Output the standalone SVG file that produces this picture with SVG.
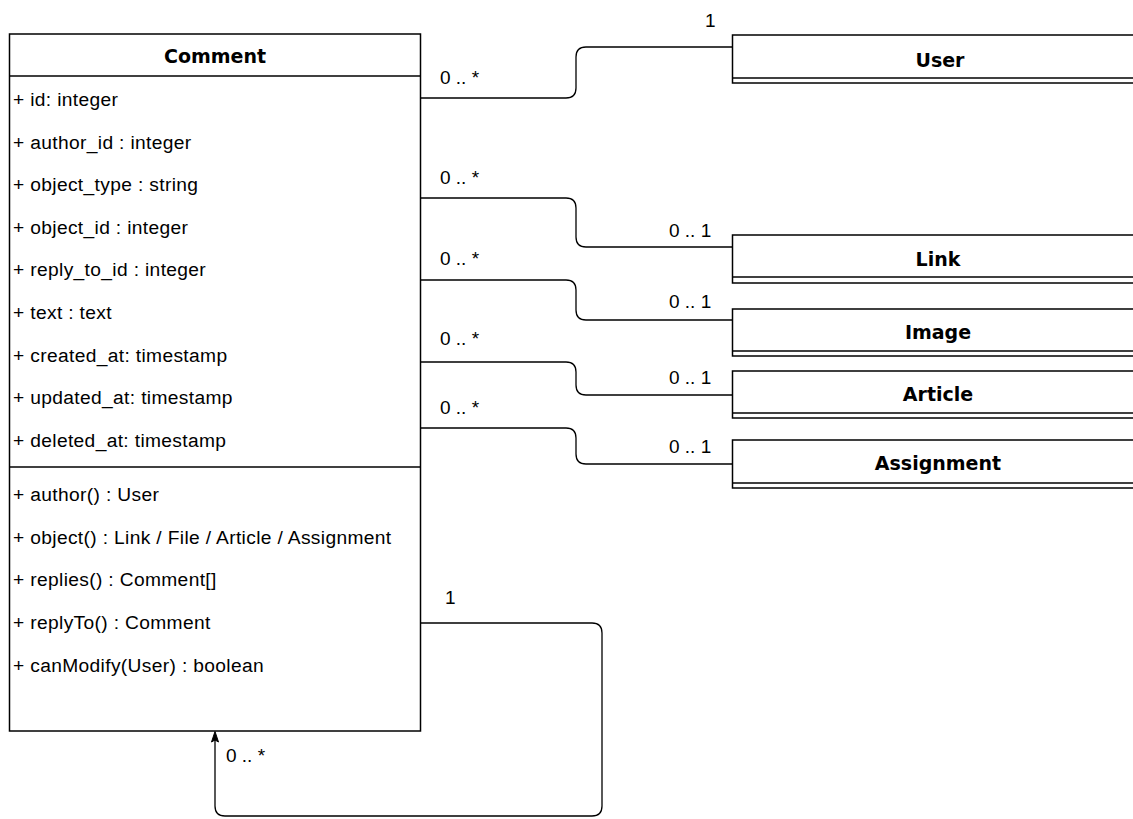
<svg xmlns="http://www.w3.org/2000/svg" width="1133" height="819" viewBox="0 0 1133 819">
<style>
.box{fill:#fff;stroke:#000;stroke-width:1.5}
.sep{stroke:#000;stroke-width:1.5;fill:none}
.conn{fill:none;stroke:#000;stroke-width:1.3}
.t{font-family:"Liberation Sans",Arial,Helvetica,sans-serif;font-size:19.2px;letter-spacing:0.35px;fill:#000}
.h{font-family:"DejaVu Sans",Verdana,sans-serif;font-size:19px;font-weight:bold;fill:#000;text-anchor:middle}
.l{font-family:"Liberation Sans",Arial,Helvetica,sans-serif;font-size:19px;fill:#000}
</style>
<rect width="1133" height="819" fill="#fff"/>
<g id="connectors">
<path class="conn" d="M420.5,98 H566 Q576,98 576,88 V57 Q576,47 586,47 H732"/>
<path class="conn" d="M420.5,198 H566 Q576,198 576,208 V237 Q576,247 586,247 H732"/>
<path class="conn" d="M420.5,280 H566 Q576,280 576,290 V310 Q576,320 586,320 H732"/>
<path class="conn" d="M420.5,362 H566 Q576,362 576,372 V385 Q576,395 586,395 H732"/>
<path class="conn" d="M420.5,428 H566 Q576,428 576,438 V454 Q576,464 586,464 H732"/>
<path class="conn" d="M420.5,623 H592 Q602,623 602,633 V806 Q602,816 592,816 H225 Q215,816 215,806 V738"/>
<path d="M215,731.5 L218.5,742 L215,740 L211.5,742 Z" fill="#000" stroke="#000" stroke-width="1"/>
<text class="l" x="440" y="84">0 .. *</text>
<text class="l" x="705" y="27">1</text>
<text class="l" x="440" y="184">0 .. *</text>
<text class="l" x="669" y="237">0 .. 1</text>
<text class="l" x="440" y="265">0 .. *</text>
<text class="l" x="669" y="308">0 .. 1</text>
<text class="l" x="440" y="345">0 .. *</text>
<text class="l" x="669" y="384">0 .. 1</text>
<text class="l" x="440" y="414">0 .. *</text>
<text class="l" x="669" y="453">0 .. 1</text>
<text class="l" x="445" y="604">1</text>
<text class="l" x="226" y="762">0 .. *</text>
</g>
<g id="comment">
<rect class="box" x="9.5" y="34" width="411" height="697"/>
<line class="sep" x1="9.5" y1="76" x2="420.5" y2="76"/>
<line class="sep" x1="9.5" y1="467" x2="420.5" y2="467"/>
<text class="h" x="215" y="63">Comment</text>
<text class="t" x="13" y="106">+ id: integer</text>
<text class="t" x="13" y="148.6">+ author_id : integer</text>
<text class="t" x="13" y="191.2">+ object_type : string</text>
<text class="t" x="13" y="233.8">+ object_id : integer</text>
<text class="t" x="13" y="276.4">+ reply_to_id : integer</text>
<text class="t" x="13" y="319">+ text : text</text>
<text class="t" x="13" y="361.6">+ created_at: timestamp</text>
<text class="t" x="13" y="404.2">+ updated_at: timestamp</text>
<text class="t" x="13" y="446.8">+ deleted_at: timestamp</text>
<text class="t" x="13" y="500.5">+ author() : User</text>
<text class="t" x="13" y="543.5">+ object() : Link / File / Article / Assignment</text>
<text class="t" x="13" y="586">+ replies() : Comment[]</text>
<text class="t" x="13" y="628.5">+ replyTo() : Comment</text>
<text class="t" x="13" y="671.5">+ canModify(User) : boolean</text>
</g>
<g id="user">
<rect class="box" x="732.5" y="35" width="420" height="48"/>
<line class="sep" x1="732.5" y1="78" x2="1152" y2="78"/>
<text class="h" x="940" y="67">User</text>
</g>
<g id="link">
<rect class="box" x="732.5" y="235" width="420" height="48"/>
<line class="sep" x1="732.5" y1="277" x2="1152" y2="277"/>
<text class="h" x="938" y="266">Link</text>
</g>
<g id="image">
<rect class="box" x="732.5" y="309" width="420" height="47"/>
<line class="sep" x1="732.5" y1="351" x2="1152" y2="351"/>
<text class="h" x="938" y="339">Image</text>
</g>
<g id="article">
<rect class="box" x="732.5" y="371" width="420" height="47"/>
<line class="sep" x1="732.5" y1="413" x2="1152" y2="413"/>
<text class="h" x="938" y="401">Article</text>
</g>
<g id="assignment">
<rect class="box" x="732.5" y="440" width="420" height="48"/>
<line class="sep" x1="732.5" y1="483" x2="1152" y2="483"/>
<text class="h" x="938" y="470">Assignment</text>
</g>
</svg>
